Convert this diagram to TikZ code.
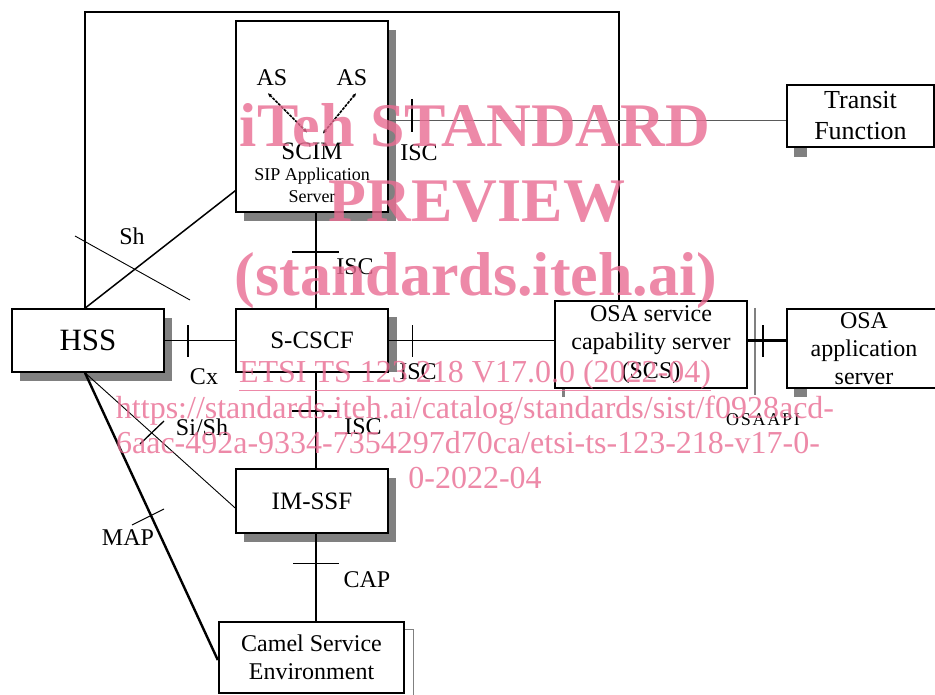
\documentclass[tikz,border=0pt]{standalone}
\usepackage{fontspec}
\setmainfont{Liberation Serif}
\usetikzlibrary{positioning, arrows.meta, shadows, calc}
\definecolor{shadegray}{HTML}{808080}
\definecolor{linegray}{HTML}{5A5A5A}
\definecolor{wmpink}{HTML}{E96C92}

\begin{document}
\begin{tikzpicture}[
    x=1pt, y=-1pt,
    box/.style={draw, line width=1.6pt, fill=white, inner sep=0pt, align=center,
                font=\fontsize{25}{29}\selectfont},
    shade/.style={drop shadow={shadow xshift=8pt, shadow yshift=-9pt, fill=shadegray, opacity=1}},
    lbl/.style={inner sep=0pt, font=\fontsize{24}{28}\selectfont},
    link/.style={line width=1.5pt},
    thinlink/.style={line width=0.9pt},
    tickmark/.style={line width=2.5pt},
    asflow/.style={line width=1.6pt, dash pattern=on 3pt off 1pt,
                   {Stealth[length=4pt, width=3.5pt]}-{Stealth[length=4pt, width=3.5pt]}},
    wm/.style={text=wmpink, text opacity=0.8, inner sep=0pt, anchor=base},
    wmbig/.style={wm, font=\fontsize{62}{70}\selectfont\bfseries},
    wmsmall/.style={wm, font=\fontsize{32}{35}\selectfont},
  ]
  \useasboundingbox (0,0) rectangle (935,695);
  \clip (0,0) rectangle (935,695);

  % ── SCIM / SIP application server ──
  \node[box, shade, minimum width=152pt, minimum height=191pt] (scim) at (312,116.5) {};
  \node[lbl] (as1) at (272,78) {AS};
  \node[lbl] (as2) at (352,78) {AS};
  \node[lbl, font=\fontsize{25}{29}\selectfont] (scimtxt) at (312,151) {SCIM};
  \node[inner sep=0pt, align=center, font=\fontsize{18}{22}\selectfont] (siptxt) at (312,185)
    {SIP Application\\Server};
  \draw[asflow] ($(as1.south)+(-4,7)$) -- ($(scimtxt.north)+(-5,-10)$);
  \draw[asflow] ($(as2.south)+(4,7)$) -- ($(scimtxt.north)+(11,-9)$);

  % ── shadow remains ──
  \draw[shadegray, line width=2pt] (755,308) -- (755,395);
  \fill[shadegray] (562,388) rectangle (565,397);
  \fill[shadegray] (794,388) rectangle (807,397);
  \fill[shadegray] (794,147) rectangle (807,157);
  \draw[shadegray, line width=1pt] (404,629) -| (413,700);
  \fill[shadegray] (388,317) rectangle (397,372);

  % ── Core boxes ──
  \node[box, shade, minimum width=152pt, minimum height=63pt,
        font=\fontsize{31}{35}\selectfont] (hss) at (88,340.5) {HSS};
  \node[box, minimum width=152pt, minimum height=63pt] (scscf) at (312,340.5) {S-CSCF};
  \node[box, shade, minimum width=152pt, minimum height=64pt] (imssf) at (312,501) {IM-SSF};
  \node[box, line width=2.4pt, minimum width=185pt, minimum height=71pt,
        font=\fontsize{24}{28}\selectfont] (camel) at (311.5,657.5) {Camel Service\\Environment};

  % ── OSA side ──
  \node[box, minimum width=192pt, minimum height=87pt, font=\fontsize{24}{28.5}\selectfont]
    (scs) at (651,344.5) {OSA service\\capability server\\(SCS)};
  \node[box, line width=2.2pt, minimum width=154pt, minimum height=79pt,
        font=\fontsize{24}{28}\selectfont] (osaas) at (864,348.5) {OSA\\application\\server};
  \node[box, line width=2.2pt, minimum width=147pt, minimum height=62pt,
        font=\fontsize{26}{31}\selectfont] (transit) at (860.5,116) {Transit\\Function};

  % ── Interfaces ──
  \coordinate (looptop) at (400,12);
  \draw[line width=2pt] ([xshift=-3pt]hss.north) |- (looptop) -| ([xshift=-32pt]scs.north);

  % Sh
  \draw[link] ([xshift=-3pt]hss.north) -- ([yshift=22pt]scim.south west);
  \draw[thinlink] (75,236) -- (190,300);
  \node[lbl] (shlbl) at (132,236) {Sh};

  % ISC, SCIM -- S-CSCF
  \draw[link] ([xshift=4pt]scim.south) -- ([xshift=4pt]scscf.north);
  \draw[tickmark] (292,252) -- (339,252);
  \node[lbl] (isc2) at (355,267) {ISC};

  % ISC, SCIM -- Transit Function
  \draw[thinlink, linegray] ([yshift=-4pt]scim.east) -- ([yshift=-4pt]scim.east -| transit.west);
  \draw[tickmark] (412,99) -- (412,132);
  \node[lbl] (isc1) at (419,153) {ISC};

  % Cx
  \draw[thinlink] (hss.east) -- (scscf.west);
  \draw[tickmark] (188,325) -- (188,357);
  \node[lbl] (cxlbl) at (204,377) {Cx};

  % ISC, S-CSCF -- SCS
  \draw[thinlink] (scscf.east) -- (scscf.east -| scs.west);
  \draw[thinlink] (412,325) -- (412,357);
  \node[lbl] (isc3) at (418,372) {ISC};

  % OSA API
  \draw[tickmark] (scscf.east -| scs.east) -- (scscf.east -| osaas.west);
  \draw[tickmark] (763,325) -- (763,357);
  \node[lbl, font=\fontsize{18}{21}\selectfont\addfontfeatures{LetterSpace=10}] (apilbl) at (763,420) {OSAAPI};

  % ISC, S-CSCF -- IM-SSF
  \draw[link] ([xshift=4pt]scscf.south) -- ([xshift=4pt]imssf.north);
  \draw[tickmark] (292,411) -- (339,411);
  \node[lbl] (isc4) at (363,427) {ISC};

  % CAP
  \draw[link] ([xshift=4pt]imssf.south) -- ([xshift=4pt]imssf.south |- camel.north);
  \draw[thinlink] (293,563) -- (339,563);
  \node[lbl] (caplbl) at (367,580) {CAP};

  % Si/Sh
  \draw[thinlink] ([xshift=-3pt]hss.south) -- ([yshift=-7pt]imssf.west);
  \draw[line width=1.3pt] (140,444) -- (164,421);
  \node[lbl] (sishlbl) at (202,427) {Si/Sh};

  % MAP
  \draw[line width=2.4pt] ([xshift=-3pt]hss.south) -- ([yshift=-2.5pt]camel.west);
  \draw[thinlink] (132,525) -- (164,509);
  \node[lbl] (maplbl) at (128,538) {MAP};

  % ── Watermark ──
  \node[wmbig] (wmtitle) at (475,147) {iTeh STANDARD};
  \node[wmbig] (wmprev) at (477,222) {PREVIEW};
  \node[wmbig] (wmsite) at (476,295) {(standards.iteh.ai)};
  \node[wmsmall] (wmetsi) at (475,382) {\underline{ETSI TS 123 218 V17.0.0 (2022-04)}};
  \node[wmsmall] (wmurl1) at (475,418) {https://standards.iteh.ai/catalog/standards/sist/f0928acd-};
  \node[wmsmall] (wmurl2) at (468,453) {6aac-492a-9334-7354297d70ca/etsi-ts-123-218-v17-0-};
  \node[wmsmall] (wmurl3) at (475,488) {0-2022-04};

\end{tikzpicture}
\end{document}
